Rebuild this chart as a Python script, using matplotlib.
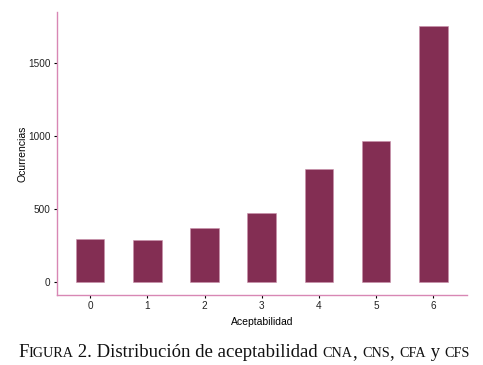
import numpy as np
import matplotlib
matplotlib.use("Agg")
import matplotlib.pyplot as plt

# Datos
aceptabilidad = [0, 1, 2, 3, 4, 5, 6]
ocurrencias = [294, 288, 370, 473, 774, 966, 1753]

bar_color = "#832e53"
spine_color = "#d887b4"

plt.rcParams['font.family'] = ['Liberation Sans', 'DejaVu Sans']

fig = plt.figure(figsize=(4.83, 3.65), dpi=100)
ax = fig.add_axes([0.118, 0.192, 0.849, 0.775])

ax.bar(aceptabilidad, ocurrencias, width=0.5, color=bar_color,
       edgecolor="#c990aa", linewidth=0.4)

ax.set_xlim(-0.58, 6.59)
ax.set_ylim(-89, 1849)
ax.set_xticks(aceptabilidad)
ax.set_yticks([0, 500, 1000, 1500])

for s in ["top", "right"]:
    ax.spines[s].set_visible(False)
for s in ["left", "bottom"]:
    ax.spines[s].set_color(spine_color)
    ax.spines[s].set_linewidth(1.0)

ax.tick_params(axis="both", length=2.5, width=0.8, color="black",
               labelsize=7.2, labelcolor="#222222", pad=2)
ax.set_xlabel("Aceptabilidad", fontsize=7.5)
ax.set_ylabel("Ocurrencias", fontsize=7.5)
ax.yaxis.set_label_coords(-0.085, 0.5)
ax.xaxis.set_label_coords(0.5, -0.095)
ax.xaxis.label.set_va("center")
ax.yaxis.label.set_va("center")

# Pie de figura con versalitas simuladas
piezas = [("F", 13.5), ("IGURA", 10.2), (" 2. Distribución de aceptabilidad ", 13.5),
          ("CNA", 10.2), (", ", 13.5), ("CNS", 10.2), (", ", 13.5), ("CFA", 10.2),
          (" y ", 13.5), ("CFS", 10.2)]
fig.canvas.draw()
renderer = fig.canvas.get_renderer()
x = 18
y = 365 - 357
for texto, tam in piezas:
    t = fig.text(x / 483, y / 365, texto, fontsize=tam, color="#111111",
                 family="Liberation Serif", transform=fig.transFigure,
                 ha="left", va="baseline")
    bb = t.get_window_extent(renderer)
    x += bb.width

fig.savefig("out.png", dpi=100)
